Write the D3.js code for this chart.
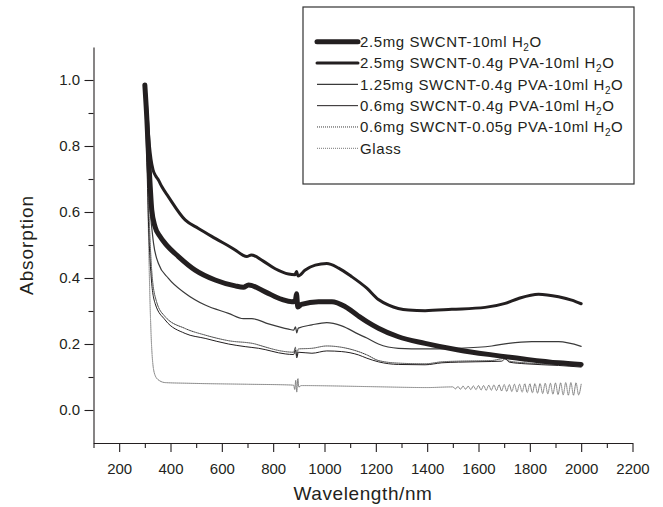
<!DOCTYPE html>
<html>
<head>
<meta charset="utf-8">
<script src="https://cdn.jsdelivr.net/npm/d3@7"></script>
<style>
body { margin: 0; background: #fff; }
svg text { font-family: "Liberation Sans", Arial, Helvetica, sans-serif; fill: #231f20; }
</style>
</head>
<body>
<div id="chart"></div>
<script>
// [wavelength nm, absorption]
const swcntWater = [[300,0.985],[308,0.88],[315,0.76],[321,0.677],[327,0.606],[340,0.555],[360,0.525],[379,0.505],[431,0.465],[496,0.424],[574,0.394],[652,0.376],[684,0.372],[704,0.379],[769,0.358],[834,0.335],[873,0.328],[886,0.33],[891,0.352],[896,0.312],[910,0.32],[977,0.328],[1029,0.328],[1081,0.313],[1132,0.285],[1165,0.268],[1210,0.248],[1288,0.222],[1392,0.202],[1522,0.182],[1652,0.167],[1782,0.154],[1912,0.143],[2000,0.138]];
const swcnt25Pva04 = [[300,0.985],[306,0.93],[312,0.86],[318,0.8],[324,0.76],[332,0.728],[342,0.71],[353,0.697],[366,0.677],[392,0.646],[457,0.576],[509,0.55],[574,0.52],[652,0.485],[680,0.47],[697,0.465],[715,0.47],[760,0.452],[808,0.428],[860,0.412],[885,0.41],[891,0.42],[897,0.406],[925,0.424],[964,0.439],[1009,0.444],[1055,0.43],[1106,0.404],[1165,0.369],[1210,0.335],[1250,0.318],[1327,0.303],[1392,0.301],[1496,0.305],[1626,0.311],[1704,0.323],[1756,0.338],[1834,0.351],[1912,0.343],[1963,0.333],[2000,0.322]];
const swcnt125Pva04 = [[300,0.985],[310,0.8],[320,0.62],[334,0.505],[353,0.444],[392,0.399],[457,0.354],[535,0.318],[626,0.293],[684,0.277],[717,0.277],[782,0.261],[860,0.245],[880,0.242],[887,0.252],[892,0.234],[898,0.248],[951,0.258],[1009,0.265],[1067,0.255],[1132,0.23],[1165,0.218],[1210,0.2],[1288,0.187],[1392,0.185],[1522,0.187],[1652,0.194],[1717,0.202],[1808,0.207],[1912,0.207],[2000,0.193]];
const swcnt06Pva04 = [[300,0.985],[308,0.75],[315,0.55],[325,0.4],[340,0.323],[379,0.273],[457,0.232],[535,0.217],[626,0.2],[691,0.192],[743,0.187],[847,0.17],[880,0.168],[887,0.182],[892,0.158],[898,0.175],[951,0.172],[1009,0.179],[1067,0.177],[1132,0.167],[1165,0.157],[1210,0.146],[1288,0.138],[1392,0.137],[1457,0.143],[1522,0.145],[1652,0.147],[1690,0.148],[1704,0.155],[1720,0.145],[1782,0.14],[1912,0.135],[2000,0.13]];
const swcnt06Pva005 = [[300,0.985],[310,0.76],[318,0.56],[328,0.41],[345,0.33],[379,0.283],[457,0.247],[535,0.227],[626,0.21],[730,0.2],[743,0.197],[847,0.177],[880,0.175],[886,0.19],[892,0.165],[898,0.185],[951,0.187],[1009,0.194],[1067,0.19],[1132,0.177],[1165,0.167],[1210,0.15],[1288,0.142],[1392,0.14],[1457,0.146],[1522,0.148],[1652,0.15],[1700,0.156],[1720,0.148],[1782,0.143],[1912,0.138],[2000,0.135]];
const glass = [[300,0.985],[308,0.8],[315,0.5],[322,0.28],[330,0.15],[340,0.105],[355,0.09],[380,0.083],[470,0.081],[700,0.078],[860,0.076],[880,0.075],[884,0.062],[888,0.09],[892,0.055],[896,0.095],[900,0.07],[910,0.074],[1165,0.071],[1400,0.068],
	[1500,0.070],[1510,0.064],[1520,0.071],[1530,0.063],[1540,0.072],[1550,0.063],[1560,0.072],[1570,0.062],[1580,0.073],[1590,0.062],
	[1600,0.074],[1610,0.061],[1620,0.074],[1630,0.060],[1640,0.075],[1650,0.060],[1660,0.076],[1670,0.059],[1680,0.076],[1690,0.058],
	[1700,0.077],[1710,0.057],[1720,0.077],[1730,0.056],[1740,0.078],[1750,0.055],[1760,0.078],[1770,0.054],[1780,0.079],[1790,0.053],
	[1800,0.079],[1810,0.052],[1820,0.080],[1830,0.051],[1840,0.080],[1850,0.050],[1860,0.081],[1870,0.049],[1880,0.081],[1890,0.048],
	[1900,0.082],[1910,0.047],[1920,0.082],[1930,0.046],[1940,0.083],[1950,0.045],[1960,0.083],[1970,0.045],[1980,0.082],[1990,0.046],[2000,0.078]];

const seriesLabels = [
	["2.5mg SWCNT-10ml H", "2", "O"],
	["2.5mg SWCNT-0.4g PVA-10ml H", "2", "O"],
	["1.25mg SWCNT-0.4g PVA-10ml H", "2", "O"],
	["0.6mg SWCNT-0.4g PVA-10ml H", "2", "O"],
	["0.6mg SWCNT-0.05g PVA-10ml H", "2", "O"],
	["Glass", "", ""]
];
const seriesData = [swcntWater, swcnt25Pva04, swcnt125Pva04, swcnt06Pva04, swcnt06Pva005, glass];

const xTicks = [200, 400, 600, 800, 1000, 1200, 1400, 1600, 1800, 2000, 2200];
const xMinor = [100, 300, 500, 700, 900, 1100, 1300, 1500, 1700, 1900, 2100];
const yTicks = [0.0, 0.2, 0.4, 0.6, 0.8, 1.0];
const yMinor = [0.1, 0.3, 0.5, 0.7, 0.9];

// line looks, same order as the legend
const styles = [
	{w: 5, c: "#231f20", dash: null},
	{w: 3, c: "#231f20", dash: null},
	{w: 1.2, c: "#3a3a3a", dash: null},
	{w: 1, c: "#231f20", dash: null},
	{w: 1, c: "#3a3a3a", dash: "1,1"},
	{w: 1, c: "#777", dash: "1,1"}
];

const width = 663, height = 507;
const ink = "#231f20";

let svg = d3.select("#chart").append("svg")
	.attr("width", width)
	.attr("height", height);

let xScale = d3.scaleLinear().domain([100, 2200]).range([93.5, 632.5]);
let yScale = d3.scaleLinear().domain([-0.1, 1.1]).range([443, 47]);

// x axis
let gx = svg.append("g").attr("transform", "translate(0,443)");
gx.call(d3.axisBottom(xScale).tickValues(xTicks).tickSize(9).tickSizeOuter(0).tickPadding(11).tickFormat(d3.format("d")));
svg.append("g").attr("transform", "translate(0,443)")
	.call(d3.axisBottom(xScale).tickValues(xMinor).tickSize(5).tickSizeOuter(0).tickFormat(""))
	.select(".domain").remove();

// y axis
let gy = svg.append("g").attr("transform", "translate(93.5,0)");
gy.call(d3.axisLeft(yScale).tickValues(yTicks).tickSize(9).tickSizeOuter(0).tickPadding(4.5).tickFormat(d3.format(".1f")));
svg.append("g").attr("transform", "translate(93.5,0)")
	.call(d3.axisLeft(yScale).tickValues(yMinor).tickSize(5).tickSizeOuter(0).tickFormat(""))
	.select(".domain").remove();

svg.selectAll(".domain, .tick line").attr("stroke", ink).attr("stroke-width", 1.1);
svg.selectAll(".tick text").attr("font-size", 15).attr("fill", ink)
	.attr("font-family", "'Liberation Sans', Arial, sans-serif");

// axis titles
svg.append("text")
	.attr("x", 363).attr("y", 500)
	.attr("text-anchor", "middle")
	.attr("font-size", 19)
	.attr("letter-spacing", 0.6)
	.text("Wavelength/nm");

svg.append("text")
	.attr("transform", "translate(33,245) rotate(-90)")
	.attr("text-anchor", "middle")
	.attr("font-size", 19)
	.attr("letter-spacing", 0.9)
	.text("Absorption");

// curves (thin ones first so the thick ones sit on top)
let line = d3.line()
	.x(d => xScale(d[0]))
	.y(d => yScale(d[1]))
	.curve(d3.curveMonotoneX);

let order = [5, 4, 3, 2, 1, 0];
order.forEach(i => {
	svg.append("path")
		.datum(seriesData[i])
		.attr("fill", "none")
		.attr("stroke", styles[i].c)
		.attr("stroke-width", styles[i].w)
		.attr("stroke-dasharray", styles[i].dash)
		.attr("stroke-linejoin", "round")
		.attr("stroke-linecap", "round")
		.attr("d", line);
});

// legend
let legend = svg.append("g");
legend.append("rect")
	.attr("x", 303).attr("y", 7)
	.attr("width", 331).attr("height", 177)
	.attr("fill", "#fff")
	.attr("stroke", "#333")
	.attr("stroke-width", 1.2);

let rowY = d3.scaleLinear().domain([0, 5]).range([41.7, 148.3]);

seriesLabels.forEach((lab, i) => {
	let yy = rowY(i);
	legend.append("line")
		.attr("x1", 317).attr("x2", 358)
		.attr("y1", yy).attr("y2", yy)
		.attr("stroke", styles[i].c)
		.attr("stroke-width", styles[i].w)
		.attr("stroke-dasharray", styles[i].dash)
		.attr("stroke-linecap", i < 2 ? "round" : "butt");
	let t = legend.append("text")
		.attr("x", 360).attr("y", yy + 5.3)
		.attr("font-size", 15)
		.attr("letter-spacing", 0.6);
	t.append("tspan").text(lab[0]);
	if (lab[1]) {
		t.append("tspan").attr("font-size", 10).attr("dy", 4).text(lab[1]);
		t.append("tspan").attr("dy", -4).text(lab[2]);
	}
});
</script>
</body>
</html>
